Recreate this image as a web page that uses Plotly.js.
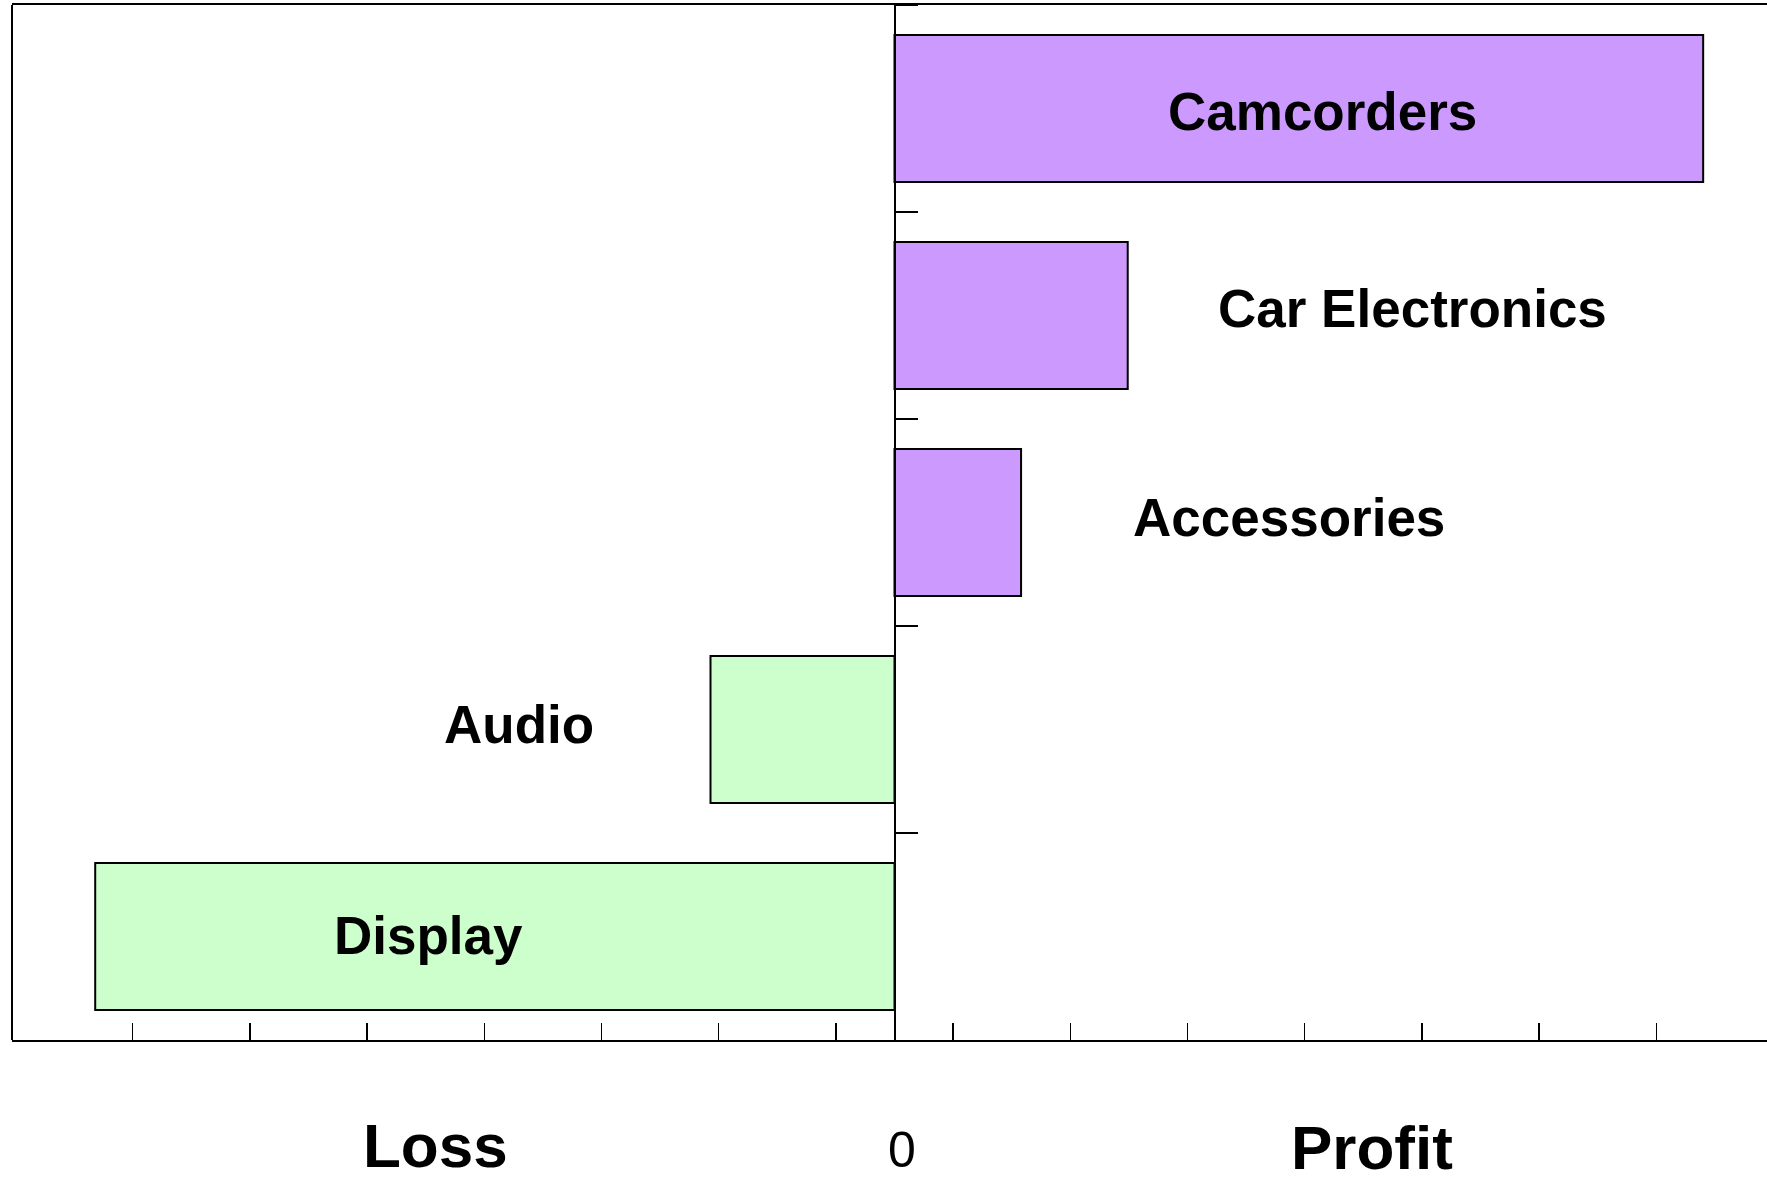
<!DOCTYPE html>
<html>
<head>
<meta charset="utf-8">
<script src="https://cdn.plot.ly/plotly-3.0.1.min.js"></script>
<style>
  html, body { margin: 0; padding: 0; overflow: hidden; background: #fff; }
  #chart { width: 1800px; height: 1184px; }
</style>
</head>
<body>
<div id="chart"></div>
<script>
// ---- data (top to bottom) ----
const categories = ["Camcorders", "Car Electronics", "Accessories", "Audio", "Display"];
const values = [69.0, 19.9, 10.8, -15.7, -68.2];
const xTickVals = [-65, -55, -45, -35, -25, -15, -5, 5, 15, 25, 35, 45, 55, 65];
const sideLabels = ["Loss", "0", "Profit"];

// ---- styling / positions (kept apart from the data) ----
const profitColor = "#CC99FF";
const lossColor = "#CCFFCC";
const labelX = [36.5, 44.2, 33.7, -32.0, -39.8];
const labelShift = [-3, 7, 5, 5, 1];
const sideLabelX = [-39.2, 0.65, 40.7];
const xRange = [-75.3, 75.3];
const FONT = "'Liberation Sans', Arial, Helvetica, sans-serif";

const barColors = values.map(v => v >= 0 ? profitColor : lossColor);

const trace = {
  type: "bar",
  orientation: "h",
  y: categories,
  x: values,
  marker: { color: barColors, line: { color: "#000", width: 2 } },
  hoverinfo: "skip",
  showlegend: false
};

const annotations = categories.map((c, i) => ({
  x: labelX[i], y: c, xref: "x", yref: "y",
  text: "<b>" + c + "</b>", showarrow: false,
  xanchor: "center", yanchor: "middle", yshift: labelShift[i],
  font: { family: FONT, size: 53, color: "#000" }
}));

const sideY = [-0.102, -0.106, -0.104];
const sideSize = [62, 50, 62];
const sideBold = [true, false, true];
sideLabels.forEach((t, i) => {
  annotations.push({
    x: sideLabelX[i], y: sideY[i], xref: "x", yref: "paper",
    text: sideBold[i] ? "<b>" + t + "</b>" : t, showarrow: false,
    xanchor: "center", yanchor: "middle",
    font: { family: FONT, size: sideSize[i], color: "#000" }
  });
});

const layout = {
  width: 1800, height: 1184,
  margin: { l: 12, r: 23, t: 5, b: 144, pad: 0 },
  paper_bgcolor: "#fff", plot_bgcolor: "#fff",
  bargap: 0.29,
  showlegend: false,
  hovermode: false,
  font: { family: FONT, color: "#000" },
  xaxis: {
    range: xRange,
    showgrid: false, zeroline: false,
    showline: true, linecolor: "#000", linewidth: 2, mirror: true,
    ticks: "inside", ticklen: 17, tickwidth: 1.5, tickcolor: "#000",
    tickmode: "array", tickvals: xTickVals,
    showticklabels: false, fixedrange: true
  },
  yaxis: {
    type: "category",
    range: [4.5, -0.5],
    anchor: "free",
    position: (0 - xRange[0]) / (xRange[1] - xRange[0]),
    side: "right",
    showgrid: false, zeroline: false,
    showline: true, linecolor: "#000", linewidth: 2,
    ticks: "outside", ticklen: 22, tickwidth: 1.5, tickcolor: "#000",
    tickson: "boundaries",
    showticklabels: false, fixedrange: true
  },
  shapes: [
    { type: "line", xref: "paper", yref: "paper", x0: 0, x1: 0, y0: 0, y1: 1,
      line: { color: "#000", width: 2 } }
  ],
  annotations: annotations
};

Plotly.newPlot("chart", [trace], layout, { displayModeBar: false, staticPlot: true });
</script>
</body>
</html>
